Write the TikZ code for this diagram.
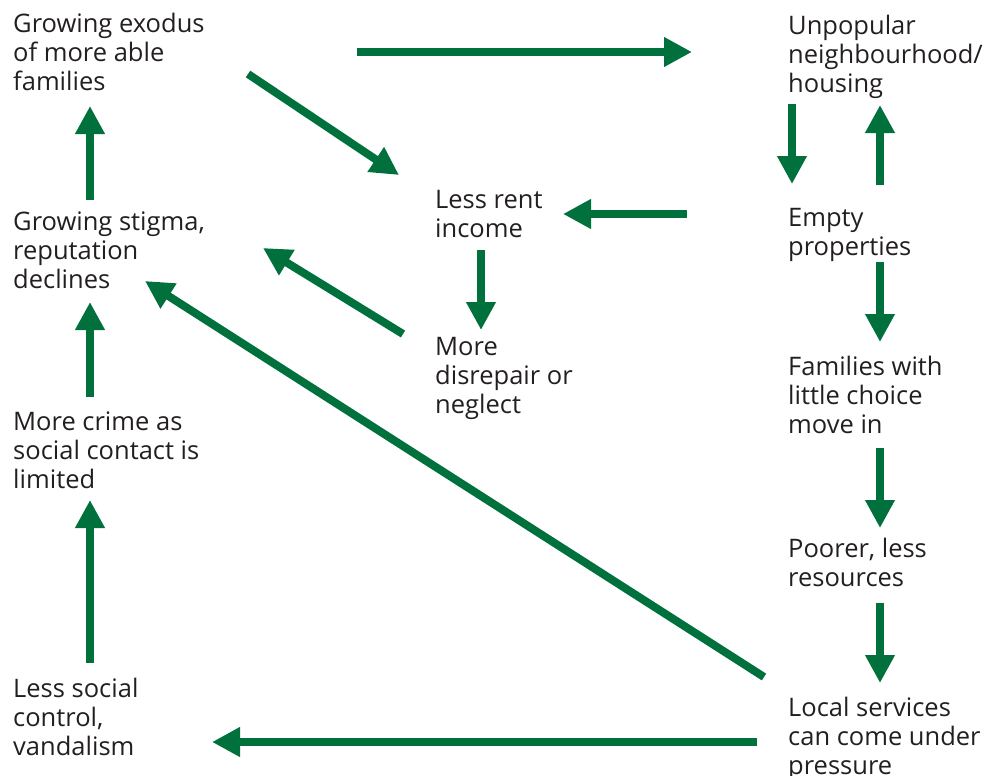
\documentclass[tikz,border=0pt]{standalone}
\usepackage{fontspec}
\setmainfont{Open Sans}
\usetikzlibrary{arrows.meta}
\definecolor{arrgreen}{HTML}{00703C}
\definecolor{txtgray}{HTML}{231F20}
\newcommand\tstrut{\rule{0pt}{20pt}}
\tikzset{
  lbl/.style={anchor=north west, inner sep=0pt, align=left, text=txtgray,
    font=\fontsize{25.5}{29.3}\selectfont},
  arr/.style={draw=arrgreen, line width=8pt,
    -{Triangle[length=28pt,width=28pt]}, shorten >=0pt}
}
\begin{document}
\begin{tikzpicture}[x=1pt,y=-1pt]
\useasboundingbox (0,0) rectangle (988,776);
% labels (top = first baseline - 20)
\node[lbl] (exodus) at (13,12) {\tstrut Growing exodus\\of more able\\families};
\node[lbl] (unpop) at (788,14) {\tstrut Unpopular\\neighbourhood/\\housing};
\node[lbl] (rent) at (435,188) {\tstrut Less rent\\income};
\node[lbl] (empty) at (788,206) {\tstrut Empty\\properties};
\node[lbl] (stigma) at (13,210) {\tstrut Growing stigma,\\reputation\\declines};
\node[lbl] (disrepair) at (435,335) {\tstrut More\\disrepair or\\neglect};
\node[lbl] (families) at (788,355) {\tstrut Families with\\little choice\\move in};
\node[lbl] (crime) at (13,410) {\tstrut More crime as\\social contact is\\limited};
\node[lbl] (poorer) at (788,537) {\tstrut Poorer, less\\resources};
\node[lbl] (control) at (13,677) {\tstrut Less social\\control,\\vandalism};
\node[lbl] (services) at (788,696) {\tstrut Local services\\can come under\\pressure};
% connector end points
\coordinate (a1s) at (357,52);  \coordinate (a1e) at (692,52);
\coordinate (a2s) at (248,74);  \coordinate (a2e) at (399,175);
\coordinate (a3s) at (687,214); \coordinate (a3e) at (563,214);
\coordinate (a4s) at (792,104); \coordinate (a4e) at (792,184);
\coordinate (a5s) at (880,185); \coordinate (a5e) at (880,105);
\coordinate (a6s) at (880,262); \coordinate (a6e) at (880,342);
\coordinate (a7s) at (481,250); \coordinate (a7e) at (481,330);
\coordinate (a8s) at (403,334); \coordinate (a8e) at (263,248);
\coordinate (a9s) at (764,677); \coordinate (a9e) at (145,281);
\coordinate (a10s) at (90,200); \coordinate (a10e) at (90,106);
\coordinate (a11s) at (90,397); \coordinate (a11e) at (90,302);
\coordinate (a12s) at (90,663); \coordinate (a12e) at (90,500);
\coordinate (a13s) at (880,448); \coordinate (a13e) at (880,528);
\coordinate (a14s) at (880,603); \coordinate (a14e) at (880,683);
\coordinate (a15s) at (757,742); \coordinate (a15e) at (212,742);
\foreach \i in {1,...,15}{\draw[arr] (a\i s) -- (a\i e);}
\end{tikzpicture}
\end{document}
